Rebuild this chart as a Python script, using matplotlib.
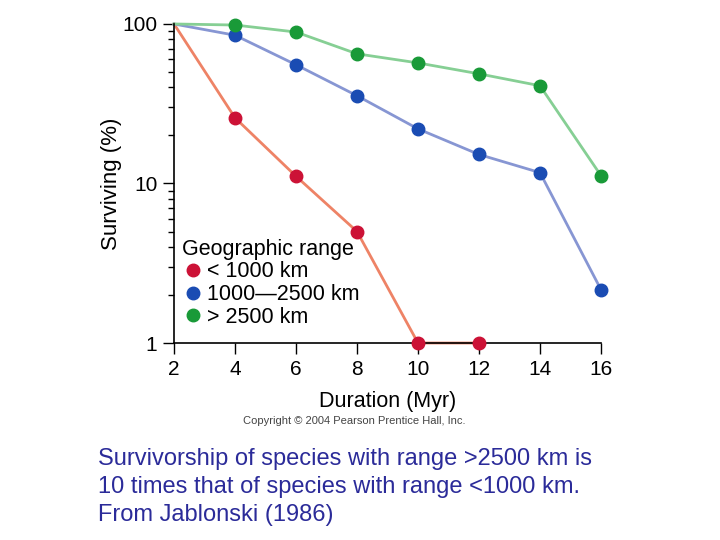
import numpy as np
import matplotlib
matplotlib.use("Agg")
import matplotlib.pyplot as plt
from matplotlib.lines import Line2D
from matplotlib.ticker import LogLocator, FixedLocator, FixedFormatter, NullFormatter

plt.rcParams["font.family"] = ["Liberation Sans", "DejaVu Sans"]

# durée (Myr) et survie (%)
duration = [2, 4, 6, 8, 10, 12, 14, 16]
small_range = [100, 25.8, 11.1, 5.0, 1.0, 1.0]          # < 1000 km
mid_range = [100, 85, 55.5, 35.5, 22, 15.2, 11.7, 2.16]  # 1000-2500 km
large_range = [100, 98.5, 89, 65, 57, 48.7, 41, 11.2]    # > 2500 km

labels = ["< 1000 km", "1000\u20142500 km", "> 2500 km"]
x_ticks = [2, 4, 6, 8, 10, 12, 14, 16]
y_ticks = [1, 10, 100]

series = [
    (small_range, "#ee8366", "#cc1236"),
    (mid_range, "#8796d3", "#1a4cb3"),
    (large_range, "#86cf94", "#199a38"),
]

fig = plt.figure(figsize=(7.2, 5.4), dpi=100)
ax = fig.add_axes([0.2417, 0.3648, 0.5930, 0.5908])

for vals, lc, mc in series:
    xs = duration[:len(vals)]
    ax.plot(xs, vals, color=lc, linewidth=2, clip_on=False, zorder=2)
    ax.plot(xs[1:], vals[1:], linestyle="none", marker="o", markersize=9,
            color=mc, clip_on=False, zorder=3)

ax.set_yscale("log")
ax.set_xlim(2, 16)
ax.set_ylim(1, 100)

ax.xaxis.set_major_locator(FixedLocator(x_ticks))
ax.yaxis.set_major_locator(FixedLocator(y_ticks))
ax.yaxis.set_major_formatter(FixedFormatter([str(v) for v in y_ticks]))
ax.yaxis.set_minor_locator(LogLocator(base=10, subs=np.arange(2, 10)))
ax.yaxis.set_minor_formatter(NullFormatter())
ax.tick_params(axis="both", which="major", length=8, width=1, labelsize=15, pad=4)
ax.tick_params(axis="y", which="minor", length=4, width=1)

for s in ["top", "right"]:
    ax.spines[s].set_visible(False)
for s in ["left", "bottom"]:
    ax.spines[s].set_linewidth(1.2)

ax.set_xlabel("Duration (Myr)", fontsize=15.5, labelpad=9)
ax.set_ylabel("Surviving (%)", fontsize=16)
ax.yaxis.set_label_coords(-0.122, 0.5)

handles = [Line2D([], [], linestyle="none", marker="o", markersize=9, color=mc)
           for _, _, mc in series]
leg = ax.legend(handles, labels, title="Geographic range", loc="lower left",
                bbox_to_anchor=(-0.017, 0.0), frameon=False, fontsize=15.5,
                title_fontsize=15.5, alignment="left", handletextpad=0.15,
                borderaxespad=0.3, labelspacing=0.08, handlelength=1.0)

fig.text(0.492, 0.221, "Copyright \u00a9 2004 Pearson Prentice Hall, Inc.",
         fontsize=8, color="#444444", ha="center", va="center")

fig.text(0.136, 0.025,
         "Survivorship of species with range >2500 km is\n"
         "10 times that of species with range <1000 km.\n"
         "From Jablonski (1986)",
         fontsize=17, color="#2b2b99", ha="left", va="bottom", linespacing=1.37)

fig.savefig("out.png", dpi=100)
